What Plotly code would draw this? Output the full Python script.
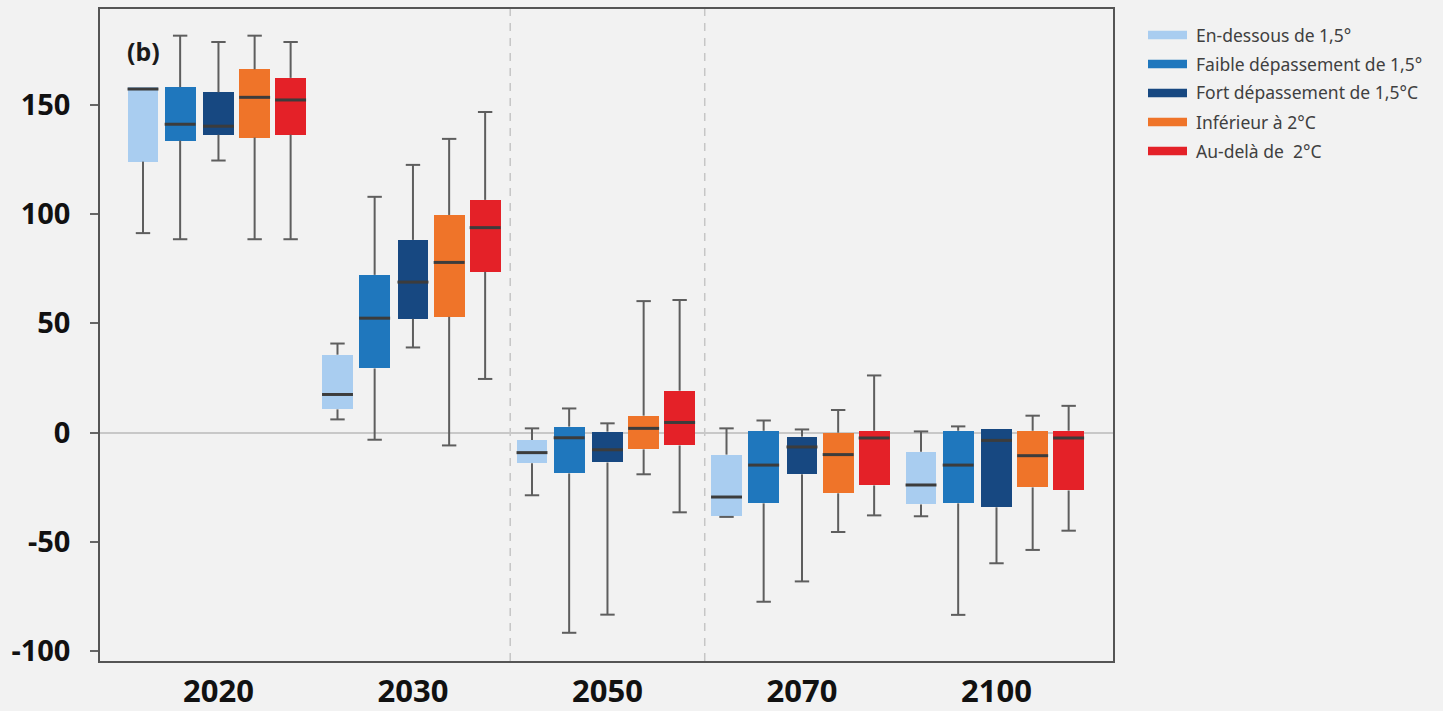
import plotly.graph_objects as go

# Years shown on the horizontal axis
years = ["2020", "2030", "2050", "2070", "2100"]

# Vertical axis ticks (plain hyphen for negatives)
y_ticks = [-100, -50, 0, 50, 100, 150]
y_tick_text = ["-100", "-50", "0", "50", "100", "150"]

# Scenario categories (legend order)
scenarios = [
    "En-dessous de 1,5°",
    "Faible dépassement de 1,5°",
    "Fort dépassement de 1,5°C",
    "Inférieur à 2°C",
    "Au-delà de\u00a0 2°C",
]
colors = ["#a9cdf0", "#1f77bd", "#174881", "#ef7429", "#e42128"]

# Box statistics per scenario, one value per year
below_low = [91.2, 6.0, -28.7, -38.6, -38.3]
below_q1 = [123.9, 10.6, -14.1, -38.3, -32.9]
below_med = [157.1, 17.4, -9.2, -29.5, -24.0]
below_q3 = [158.0, 35.6, -3.4, -10.1, -8.8]
below_high = [158.0, 40.7, 1.9, 1.9, 0.5]

low_os_low = [88.4, -3.3, -91.6, -77.4, -83.4]
low_os_q1 = [133.5, 29.3, -18.7, -32.4, -32.4]
low_os_med = [141.0, 52.3, -2.4, -14.9, -14.9]
low_os_q3 = [158.0, 72.1, 2.7, 0.8, 0.8]
low_os_high = [181.5, 107.8, 11.0, 5.5, 2.8]

high_os_low = [124.4, 38.9, -83.3, -68.1, -59.8]
high_os_q1 = [136.2, 52.0, -13.7, -19.1, -34.2]
high_os_med = [140.1, 68.8, -7.9, -6.6, -3.6]
high_os_q3 = [155.6, 88.1, 0.4, -1.9, 1.7]
high_os_high = [178.6, 122.4, 4.2, 1.4, 1.7]

lt2_low = [88.4, -5.9, -19.1, -45.5, -53.7]
lt2_q1 = [134.9, 52.9, -7.7, -27.8, -25.1]
lt2_med = [153.3, 77.8, 1.9, -10.1, -10.6]
lt2_q3 = [166.1, 99.5, 7.7, -0.1, 0.8]
lt2_high = [181.5, 134.3, 60.1, 10.3, 7.7]

gt2_low = [88.4, 24.5, -36.5, -37.9, -44.9]
gt2_q1 = [136.2, 73.5, -5.9, -24.2, -26.5]
gt2_med = [152.1, 93.7, 4.6, -2.5, -2.5]
gt2_q3 = [162.2, 106.4, 19.1, 0.8, 0.8]
gt2_high = [178.6, 146.6, 60.6, 26.1, 12.2]

series = [
    (below_low, below_q1, below_med, below_q3, below_high),
    (low_os_low, low_os_q1, low_os_med, low_os_q3, low_os_high),
    (high_os_low, high_os_q1, high_os_med, high_os_q3, high_os_high),
    (lt2_low, lt2_q1, lt2_med, lt2_q3, lt2_high),
    (gt2_low, gt2_q1, gt2_med, gt2_q3, gt2_high),
]

# Layout of boxes inside each year group
offsets = [-0.388, -0.197, 0.0, 0.186, 0.371]
box_w = 0.159
cap_hw = 0.037
whisker_color = "#5e5e5e"
median_color = "#3c3c3c"
bg = "#f2f2f2"
font = "Noto Sans"

fig = go.Figure()

for (lo, q1, med, q3, hi), off, col, name in zip(series, offsets, colors, scenarios):
    xs = [i + off for i in range(len(years))]

    # whiskers (outside the box) and caps; skipped where the whisker has no length
    wx, wy, cx, cy = [], [], [], []
    for x, a, b, c, d in zip(xs, lo, q1, q3, hi):
        if a < b:
            wx += [x, x, None]
            wy += [a, b, None]
        cx += [x - cap_hw, x + cap_hw, None]
        cy += [a, a, None]
        if d > c:
            wx += [x, x, None]
            wy += [c, d, None]
            cx += [x - cap_hw, x + cap_hw, None]
            cy += [d, d, None]
    fig.add_trace(go.Scatter(x=wx, y=wy, mode="lines", showlegend=False, hoverinfo="skip",
                             line=dict(color=whisker_color, width=2)))
    fig.add_trace(go.Scatter(x=cx, y=cy, mode="lines", showlegend=False, hoverinfo="skip",
                             line=dict(color=whisker_color, width=2)))

    # interquartile box
    fig.add_trace(go.Bar(x=xs, y=[b - a for a, b in zip(q1, q3)], base=q1, width=box_w,
                         marker=dict(color=col, line=dict(width=0)), name=name, showlegend=False))

    # median line
    mx, my = [], []
    for x, m in zip(xs, med):
        mx += [x - box_w / 2, x + box_w / 2, None]
        my += [m, m, None]
    fig.add_trace(go.Scatter(x=mx, y=my, mode="lines", showlegend=False, hoverinfo="skip",
                             line=dict(color=median_color, width=3)))

# Separators between the near-term and long-term years
for xv in (1.5, 2.5):
    fig.add_shape(type="line", xref="x", yref="paper", x0=xv, x1=xv, y0=0, y1=1,
                  line=dict(color="#c6c6c6", width=1.5, dash="8px,7px"), layer="below")

# Legend drawn as swatches and labels to the right of the plot
L, T, W, H = 100, 9, 1013, 652
def px_x(p):
    return (p - L) / W
def px_y(p):
    return 1 - (p - T) / H

for k, (name, col) in enumerate(zip(scenarios, colors)):
    yc = 35 + k * 29
    fig.add_shape(type="rect", xref="paper", yref="paper",
                  x0=px_x(1148), x1=px_x(1187), y0=px_y(yc - 4.2), y1=px_y(yc + 4.2),
                  fillcolor=col, line=dict(width=0))
    fig.add_annotation(xref="paper", yref="paper", x=px_x(1194), y=px_y(yc - 0.5),
                       text=name, showarrow=False, xanchor="left", yanchor="middle",
                       font=dict(family=font, size=17.5, color="#404040"))

fig.add_annotation(xref="paper", yref="paper", x=px_x(143), y=px_y(51), text="<b>(b)</b>",
                   showarrow=False, xanchor="center", yanchor="middle",
                   font=dict(family=font, size=25, color="#1a1a1a"))

fig.update_layout(
    width=1443, height=711,
    margin=dict(l=L, r=1443 - L - W, t=T, b=711 - T - H, autoexpand=False),
    paper_bgcolor=bg, plot_bgcolor=bg,
    barmode="overlay", bargap=0,
    showlegend=False,
    xaxis=dict(range=[-0.609, 4.599], tickvals=list(range(len(years))), ticktext=years,
               showgrid=False, zeroline=False, ticks="", showline=True, mirror=True,
               linecolor="#555555", linewidth=1.5, ticklabelstandoff=2, automargin=False,
               tickfont=dict(family=font, size=31, color="#111111", weight="bold")),
    yaxis=dict(range=[-104.5, 193.7], tickvals=y_ticks, ticktext=y_tick_text,
               showgrid=False, zeroline=True, zerolinecolor="#c8c8c8", zerolinewidth=1.5,
               ticks="outside", ticklen=8, tickwidth=1.5, tickcolor="#666666",
               showline=True, mirror=True, linecolor="#555555", linewidth=1.5,
               ticklabelstandoff=14, automargin=False,
               tickfont=dict(family=font, size=29, color="#111111", weight="bold")),
)

fig.write_html("out.html")
